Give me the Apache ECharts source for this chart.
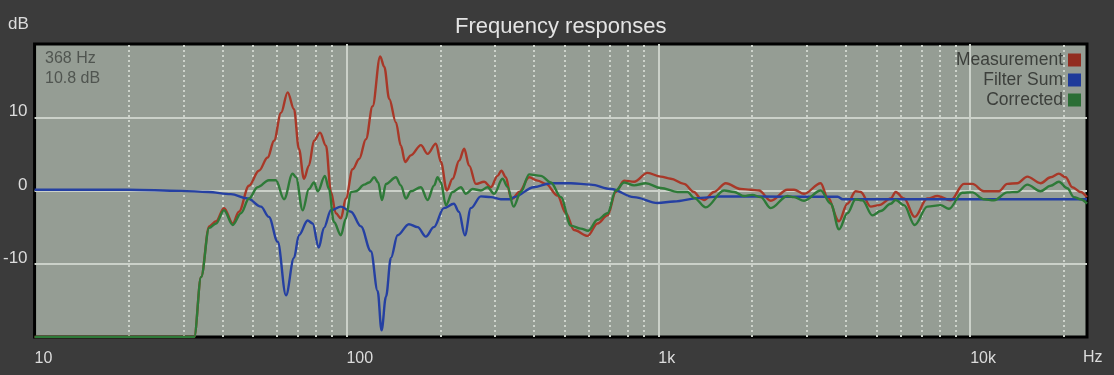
<!DOCTYPE html>
<html>
<head>
<meta charset="utf-8">
<script src="https://cdn.jsdelivr.net/npm/echarts@6/dist/echarts.min.js"></script>
<style>
html,body{margin:0;padding:0;background:#3b3b3b;}
#chart{width:1114px;height:375px;}
</style>
</head>
<body>
<div id="chart"></div>
<script>
// ---- data ----
const seriesNames = ['Measurement', 'Filter Sum', 'Corrected'];
const xTickLabels = {10: '10', 100: '100', 1000: '1k', 10000: '10k'};
const yTicks = [-10, 0, 10];
const minorTicks = [20,30,40,50,60,70,80,90,200,300,400,500,600,700,800,900,2000,3000,4000,5000,6000,7000,8000,9000,20000];
const cursorInfo = ['368 Hz', '10.8 dB'];

const measurement = [
[10,-20],[32.5,-20],[34.2,-11.8],[36.3,-4.9],[38.2,-4.2],[40.5,-2.4],[43.2,-4.5],[45.2,-2.9],[48.7,0.65],[52.4,2.7],
[55.9,4.5],[58.6,6.8],[61.7,10.6],[64.8,13.4],[67.9,11.1],[70.4,5.7],[73.1,1.6],[75.8,3.4],[78.7,6.8],[82.3,7.9],
[86.0,6.1],[89.2,-0.2],[92.5,-3.1],[96.0,-3.8],[99.6,-1.1],[104.7,2.9],[109.9,4.3],[115.5,7.0],[121.3,11.5],[128.3,18.3],
[132.2,16.9],[137.2,12.5],[144.1,9.3],[149.5,6.1],[154.3,3.9],[160.9,4.8],[173.3,6.2],[182.1,5.0],[193.6,6.4],[200.9,3.9],
[209.9,0],[219.0,1.6],[229.9,4.1],[238.5,5.7],[247.5,3.4],[260.1,0.9],[276.5,1.2],[290.5,0.45],[305.2,2.0],[314,2.7],
[324.5,1.8],[336.7,-0.9],[341.0,-1.1],[358.0,-0.2],[385.4,1.8],[410.0,1.35],[436.0,0.9],[475.3,-0.7],[505.3,-3.1],[537.2,-5.4],
[593.0,-6.2],[638.5,-4.5],[687.5,-3.4],[730.9,-0.2],[776.9,1.35],[836.4,1.2],[923.5,2.4],[1018.6,1.9],[1096.7,1.6],[1209,0.9],
[1302,-0.2],[1368,-1.1],[1403,-1.3],[1509,-0.2],[1646,1.0],[1838,0.2],[1979,0.1],[2104,0],[2294,-1.4],[2595,0.1],
[2724,0.1],[2934,-0.45],[3318,1.0],[3486,-0.9],[3798,-4.2],[4040,-1.8],[4295,-0.1],[4457,-0.2],[4799,-2.2],[5103,-2.0],
[5562,-1.1],[5772,-0.2],[6136,-1.1],[6638,-3.6],[7293,-1.1],[7851,-0.75],[8659,-1.35],[9553,0.9],[10164,0.9],[11073,-0.1],
[12371,-0.1],[13157,0.9],[14166,1.0],[15255,1.9],[16827,1.0],[18114,1.8],[19258,2.3],[20238,1.8],[21266,0.45],[22608,-0.2],
[23700,-0.9]
];

const filterSum = [
[10,0.1],[20,0.1],[29.5,-0.05],[36.0,-0.2],[42.6,-0.5],[48.3,-1.1],[53.2,-2.2],[56.4,-3.6],[60.2,-7.0],[64.0,-14.3],
[67.9,-9.2],[70.4,-6.1],[75.1,-4.1],[77.9,-4.5],[81.5,-7.8],[84.7,-5.1],[89.2,-2.7],[96.0,-2.2],[103.4,-2.9],[111.3,-4.9],
[119.8,-8.3],[125.9,-13.7],[129.6,-19.1],[133.9,-14.5],[138.9,-9.2],[145.9,-6.1],[158.6,-4.6],[169.1,-5.0],[179.8,-6.3],[190.7,-5.0],
[205.3,-2.4],[221.1,-1.8],[229.4,-2.9],[239.8,-6.1],[250.6,-2.4],[269.9,-0.8],[290.5,-0.9],[312.7,-1.2],[336.7,-1.2],[344.3,-0.9],
[399.0,0.45],[452.4,1.0],[524.3,1.0],[607.7,0.8],[704.5,0.2],[834.7,-0.9],[996.3,-1.7],[1121,-1.5],[1368,-1.0],[1586,-0.8],
[2659,-0.85],[3762,-0.85],[3903,-1.2],[23700,-1.2]
];

const corrected = [
[10,-20],[32.5,-20],[34.2,-11.8],[36.3,-5.1],[38.2,-4.5],[40.5,-2.7],[43.2,-4.7],[45.9,-3.1],[48.7,-1.1],[51.9,0.45],
[56.4,1.4],[59.4,1.4],[63.1,-1.2],[67.2,2.3],[68.9,1.8],[72.4,-2.7],[75.8,0.2],[78.7,1.1],[81.0,-0.1],[85.3,2.0],
[87.9,0.2],[91.2,-4.3],[96.0,-6.1],[99.5,-3.9],[103.4,-0.2],[107.3,-0.1],[114.0,0.8],[118.3,1.1],[122.8,1.8],[126.4,1.1],
[130.0,-1.3],[133.9,0.9],[144.1,1.8],[149.5,0.7],[155.1,-1.1],[160.9,-0.1],[173.3,0.45],[182.1,-1.3],[191.1,0.7],[196.0,1.8],
[200.9,1.1],[208.4,-2.0],[219.0,-0.2],[232.8,0.45],[241.5,-0.45],[253.8,0.2],[269.9,0],[283.5,0.45],[297.7,-0.45],[316.7,1.6],
[328.6,0.5],[343.5,-2.2],[362.5,-0.2],[385.4,2.2],[420.2,2.0],[452.4,1.1],[487.0,-0.9],[524.3,-4.8],[564.4,-5.2],[595.7,-5.5],
[638.5,-4.0],[687.5,-3.1],[730.9,0],[776.9,1.1],[836.4,0.7],[911.9,1.0],[1018.6,0.35],[1152,-0.2],[1240,-0.2],[1302,-1.0],
[1420,-2.3],[1625,0],[1750,-0.2],[1884,-0.75],[2004,-0.6],[2131,-0.9],[2294,-2.4],[2595,-0.75],[2724,-0.9],[2934,-1.4],
[3318,0],[3573,-1.8],[3798,-5.3],[4040,-3.1],[4295,-1.2],[4514,-1.35],[4859,-3.4],[5167,-2.8],[5562,-1.8],[5772,-1.3],
[6136,-2.0],[6638,-4.7],[7293,-2.2],[8044,-2.0],[8552,-2.5],[9441,-0.3],[10164,-0.25],[11073,-1.2],[11922,-1.35],[13157,-0.25],
[14166,-0.2],[15255,0.8],[16827,-0.1],[18114,0.65],[19258,1.2],[20490,0.3],[21517,-0.9],[22608,-1.2],[23700,-1.8]
];

// ---- chart ----
const chart = echarts.init(document.getElementById('chart'));
const FONT = 'Liberation Sans, Arial, sans-serif';
const majorLine = {show: true, showMinLine: false, showMaxLine: false, lineStyle: {color: '#cbd1c9', width: 2}};
const lineColors = ['#a83828', '#2540a2', '#2e7a38'];
const iconColors = ['#922d20', '#1f3b9a', '#2b6e35'];
const datasets = [measurement, filterSum, corrected];

const series = datasets.map((d, i) => ({
  name: seriesNames[i],
  type: 'line',
  data: d,
  showSymbol: false,
  smooth: 0.35,
  smoothMonotone: 'x',
  clip: true,
  z: 3 + i,
  itemStyle: {color: iconColors[i]},
  lineStyle: {color: lineColors[i], width: 2.4}
}));
series.unshift({
  name: 'minor',
  type: 'line',
  data: [],
  z: 1,
  silent: true,
  markLine: {
    silent: true,
    z: 1,
    symbol: ['none', 'none'],
    label: {show: false},
    animation: false,
    lineStyle: {color: '#cdd3cb', width: 2, type: [2, 3]},
    data: minorTicks.map(v => ({xAxis: v}))
  }
});

chart.setOption({
  backgroundColor: '#3b3b3b',
  animation: false,
  textStyle: {fontFamily: FONT},
  title: {
    text: 'Frequency responses',
    left: 450,
    top: 11,
    textStyle: {color: '#e4e4e4', fontSize: 22, fontWeight: 'normal', fontFamily: FONT}
  },
  legend: {
    data: seriesNames,
    orient: 'vertical',
    right: 33,
    top: 51,
    align: 'right',
    icon: 'rect',
    itemWidth: 13,
    itemHeight: 13,
    itemGap: 2,
    padding: 0,
    textStyle: {color: '#3c3f3b', fontSize: 17.5, fontFamily: FONT}
  },
  grid: {
    left: 34, right: 27, top: 44, bottom: 38,
    show: true,
    backgroundColor: '#959d94',
    borderColor: '#000',
    borderWidth: 3
  },
  xAxis: {
    type: 'log',
    logBase: 10,
    min: 10,
    max: 23700,
    axisLine: {show: false},
    axisTick: {show: false},
    splitLine: majorLine,
    axisLabel: {
      color: '#dcdcdc',
      fontSize: 16,
      align: 'left',
      margin: 14,
      showMaxLabel: false,
      formatter: v => xTickLabels[Math.round(v)] || ''
    }
  },
  yAxis: {
    type: 'value',
    min: -20,
    max: 20,
    interval: 10,
    axisLine: {show: false},
    axisTick: {show: false},
    splitLine: majorLine,
    axisLabel: {
      color: '#dcdcdc',
      fontSize: 17,
      margin: 7,
      verticalAlign: 'bottom',
      lineHeight: 11,
      showMinLabel: false,
      showMaxLabel: false,
      formatter: v => (yTicks.indexOf(v) >= 0 ? String(v) : '')
    }
  },
  graphic: [
    {type: 'text', left: 8, top: 16, style: {text: 'dB', fill: '#dcdcdc', font: '17px ' + FONT}},
    {type: 'text', left: 1083, top: 350, style: {text: 'Hz', fill: '#dcdcdc', font: '16px ' + FONT}},
    {type: 'text', left: 45, top: 51, z: 10, style: {text: cursorInfo[0], fill: '#505550', font: '16px ' + FONT}},
    {type: 'text', left: 45, top: 71, z: 10, style: {text: cursorInfo[1], fill: '#505550', font: '16px ' + FONT}}
  ],
  series: series
});
</script>
</body>
</html>
